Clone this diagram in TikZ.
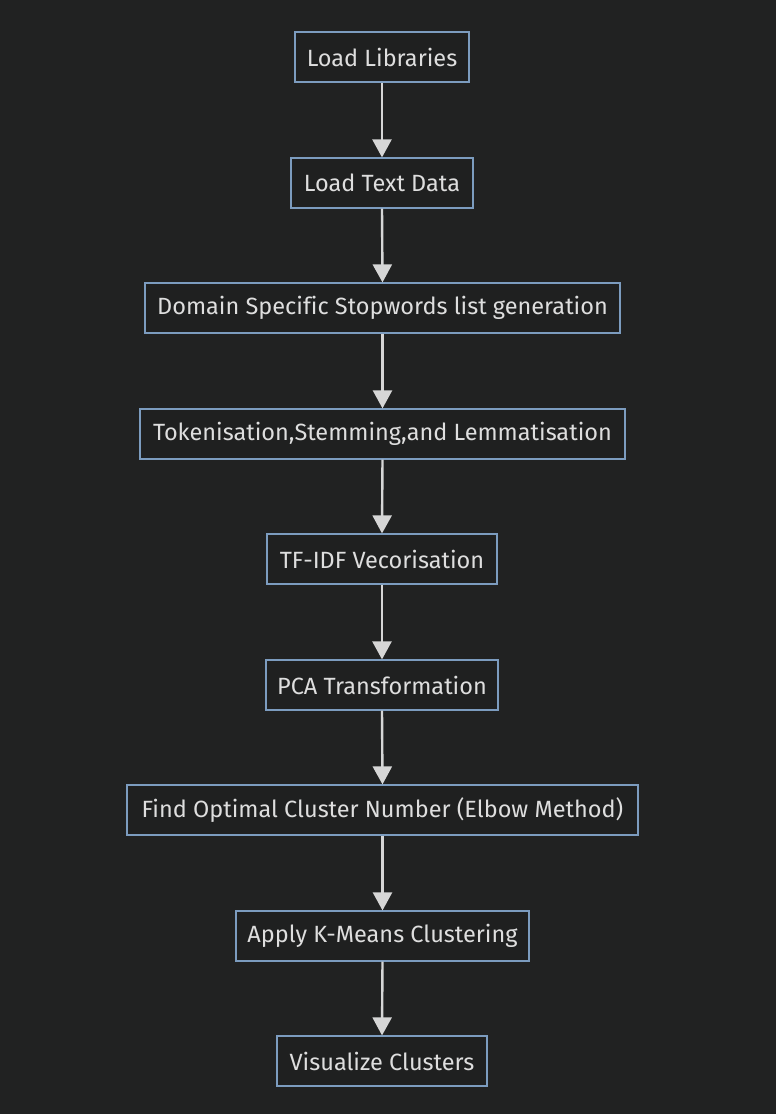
\documentclass[tikz,border=0pt]{standalone}
\usepackage{fontspec}
\setmainfont[Ligatures=NoCommon]{Fira Sans}
\usetikzlibrary{arrows.meta}
\definecolor{bg}{HTML}{212222}
\definecolor{nodefill}{HTML}{1F2020}
\definecolor{nodeborder}{HTML}{7C9CBF}
\definecolor{txt}{HTML}{DEDEDE}
\definecolor{arr}{HTML}{D6D6D6}
\begin{document}
\begin{tikzpicture}[x=1pt,y=-1pt,
  stepbox/.style={draw=nodeborder, fill=nodefill, line width=1.2pt, minimum height=50pt, inner sep=0pt, text=txt, font=\fontsize{23.5}{26}\selectfont},
  flow/.style={draw=arr, line width=2.4pt, -{Triangle[width=19pt,length=18pt]}}]
\fill[bg] (0,0) rectangle (776,1114);
\useasboundingbox (0,0) rectangle (776,1114);
\node[stepbox, minimum width=174pt] (n1) at (382,57) {Load Libraries};
\node[stepbox, minimum width=182pt] (n2) at (382,183) {Load Text Data};
\node[stepbox, minimum width=475pt] (n3) at (382.5,308) {Domain Specific Stopwords list generation};
\node[stepbox, minimum width=485pt] (n4) at (382.5,434) {Tokenisation,Stemming,and Lemmatisation};
\node[stepbox, minimum width=230pt] (n5) at (382,559) {TF-IDF Vecorisation};
\node[stepbox, minimum width=232pt] (n6) at (382,685) {PCA Transformation};
\node[stepbox, minimum width=511pt] (n7) at (382.5,810) {Find Optimal Cluster Number (Elbow Method)};
\node[stepbox, minimum width=293pt] (n8) at (382.5,936) {Apply K-Means Clustering};
\node[stepbox, minimum width=210pt] (n9) at (382,1061) {Visualize Clusters};
\foreach \a/\b in {n1/n2,n2/n3,n3/n4,n4/n5,n5/n6,n6/n7,n7/n8,n8/n9}
  \draw[flow] (\a.south) -- (\b.north);
\end{tikzpicture}
\end{document}
